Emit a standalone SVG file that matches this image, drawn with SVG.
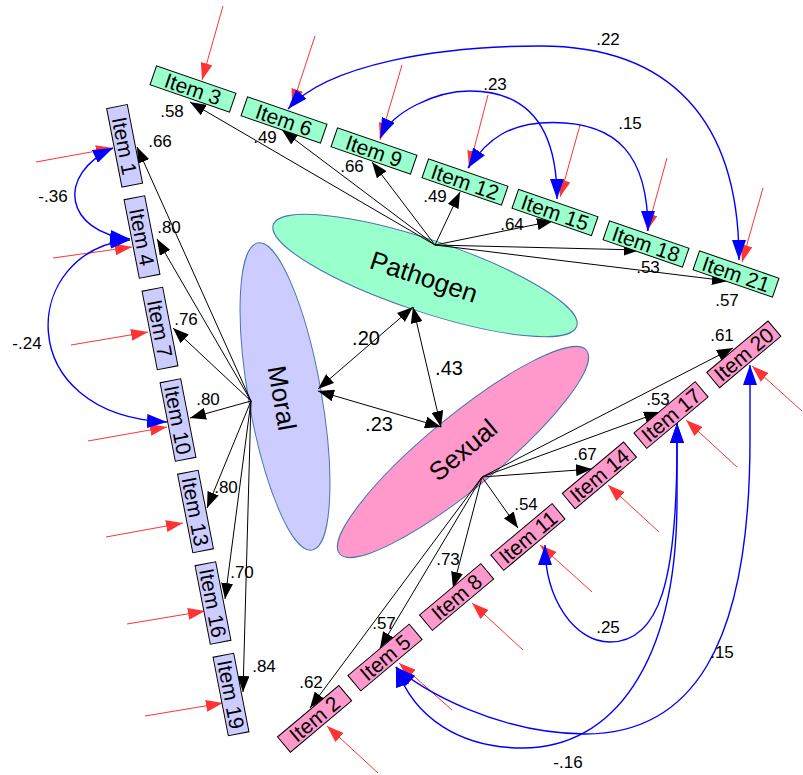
<svg xmlns="http://www.w3.org/2000/svg" width="803" height="775" viewBox="0 0 803 775">
<defs>
<style>
text{font-family:"Liberation Sans",Arial,sans-serif;fill:#000}
.it{font-size:21px;text-anchor:middle}
.lv{font-size:26px;text-anchor:middle}
.lb{font-size:17px;text-anchor:middle}
.fl{font-size:20px;text-anchor:middle}
.pb{fill:#99ffcc;stroke:#000;stroke-width:1}
.mb{fill:#ccccff;stroke:#000;stroke-width:1}
.sb{fill:#ff99cc;stroke:#000;stroke-width:1}
.ld{stroke:#000;stroke-width:1;fill:none;marker-end:url(#ah)}
.fc{stroke:#000;stroke-width:1;fill:none;marker-start:url(#ah);marker-end:url(#ah)}
.er{stroke:#ff3333;stroke-width:1;fill:none;marker-end:url(#rh)}
.cv{stroke:#0000ff;stroke-width:1.4;fill:none;marker-start:url(#bh);marker-end:url(#bh)}
</style>
<marker id="ah" viewBox="0 0 16 12" refX="16" refY="6" markerWidth="16" markerHeight="12" orient="auto-start-reverse" markerUnits="userSpaceOnUse"><path d="M0,0 L16,6 L0,12 z" fill="#000"/></marker>
<marker id="rh" viewBox="0 0 17 12" refX="17" refY="6" markerWidth="17" markerHeight="12" orient="auto" markerUnits="userSpaceOnUse"><path d="M0,0 L17,6 L0,12 z" fill="#ff3333"/></marker>
<marker id="bh" viewBox="0 0 20 14" refX="20" refY="7" markerWidth="20" markerHeight="14" orient="auto-start-reverse" markerUnits="userSpaceOnUse"><path d="M0,0 L20,7 L0,14 z" fill="#0000ff"/></marker>
</defs>
<rect width="803" height="775" fill="#fff"/>

<g id="pathogen"><ellipse cx="425" cy="275.5" rx="160" ry="36" transform="rotate(18.5 425 275.5)" fill="#99ffcc" stroke="#4a74b0" stroke-width="1"/><text class="lv" transform="translate(424,277) rotate(18.5)" y="9">Pathogen</text></g>
<g id="moral"><ellipse cx="285" cy="396.5" rx="36.4" ry="156" transform="rotate(-10 285 396.5)" fill="#ccccff" stroke="#4a74b0" stroke-width="1"/><text class="lv" transform="translate(282,398) rotate(80)" y="9">Moral</text></g>
<g id="sexual"><ellipse cx="463" cy="452" rx="160" ry="36" transform="rotate(-39.5 463 452)" fill="#ff99cc" stroke="#4a74b0" stroke-width="1"/><text class="lv" transform="translate(463,450) rotate(-40)" y="9">Sexual</text></g>

<g id="connectors">
<g id="loadings">
<path class="ld" d="M435,245 L190,102"/>
<path class="ld" d="M435,245 L282,130"/>
<path class="ld" d="M435,245 L372,162"/>
<path class="ld" d="M435,245 L460,192"/>
<path class="ld" d="M435,245 L553,221"/>
<path class="ld" d="M435,245 L640,250"/>
<path class="ld" d="M435,245 L728,281"/>
<path class="ld" d="M251,401 L137,147"/>
<path class="ld" d="M251,401 L157,239"/>
<path class="ld" d="M251,401 L173,328"/>
<path class="ld" d="M251,401 L190,418"/>
<path class="ld" d="M251,401 L207,508"/>
<path class="ld" d="M251,401 L225,599"/>
<path class="ld" d="M251,401 L243,692"/>
<path class="ld" d="M482,477 L310,708"/>
<path class="ld" d="M482,477 L380,648"/>
<path class="ld" d="M482,477 L453,588"/>
<path class="ld" d="M482,477 L518,528"/>
<path class="ld" d="M482,477 L592,469"/>
<path class="ld" d="M482,477 L660,412"/>
<path class="ld" d="M482,477 L733,348"/>
</g>
<g id="factor-correlations">
<path class="fc" d="M318,389 L413,307"/>
<path class="fc" d="M413,307 L441,427"/>
<path class="fc" d="M318,391 L441,427"/>
</g>
<g id="errors">
<path class="er" d="M223,6 L202,80"/>
<path class="er" d="M315,36 L292,106"/>
<path class="er" d="M402,65 L380,140"/>
<path class="er" d="M488,95 L469,168"/>
<path class="er" d="M580,125 L560,197"/>
<path class="er" d="M667,158 L647,231"/>
<path class="er" d="M763,188 L742,262"/>
<path class="er" d="M36,162 L113,148"/>
<path class="er" d="M53,258 L132,247"/>
<path class="er" d="M71,345 L148,332"/>
<path class="er" d="M88,441 L167,427"/>
<path class="er" d="M106,537 L183,523"/>
<path class="er" d="M127,624 L205,611"/>
<path class="er" d="M145,716 L223,703"/>
<path class="er" d="M378,773 L327,726"/>
<path class="er" d="M452,710 L399,663"/>
<path class="er" d="M523,650 L472,603"/>
<path class="er" d="M592,592 L540,545"/>
<path class="er" d="M659,532 L608,485"/>
<path class="er" d="M737,467 L686,420"/>
<path class="er" d="M802,411 L752,366"/>
</g>
<g id="covariances">
<path class="cv" d="M113,148 C55,175 65,232 130,239"/>
<path class="cv" d="M130,240 C20,250 10,415 167,422"/>
<path class="cv" d="M288,109 C328,64 440,46 540,46 C670,46 739,120 739,260"/>
<path class="cv" d="M380,138 C392,112 435,91 470,91 C530,91 557,130 557,199"/>
<path class="cv" d="M468,168 C488,138 510,122.5 553,122.5 C618,122.5 648,156 648,231"/>
<path class="cv" d="M545,545 C545,600 575,642 610,642 C660,642 677,580 677,443 L677,423"/>
<path class="cv" d="M396,667 C414,718 460,748 523,748 C612,748 677,665 677,500 L677,423"/>
<path class="cv" d="M396,667 C420,690 500,734 585,734 C690,734 750,650 750,440 L750,365"/>
</g>
<g id="labels">
<text class="lb" x="172" y="117">.58</text>
<text class="lb" x="265" y="143">.49</text>
<text class="lb" x="352" y="172">.66</text>
<text class="lb" x="435" y="202">.49</text>
<text class="lb" x="512" y="230">.64</text>
<text class="lb" x="648" y="273">.53</text>
<text class="lb" x="727" y="306">.57</text>
<text class="lb" x="160" y="147">.66</text>
<text class="lb" x="169" y="233">.80</text>
<text class="lb" x="186" y="325">.76</text>
<text class="lb" x="208" y="405">.80</text>
<text class="lb" x="226" y="493">.80</text>
<text class="lb" x="242" y="578">.70</text>
<text class="lb" x="264" y="672">.84</text>
<text class="lb" x="311" y="688">.62</text>
<text class="lb" x="384" y="629">.57</text>
<text class="lb" x="448" y="565">.73</text>
<text class="lb" x="526" y="510">.54</text>
<text class="lb" x="585" y="460">.67</text>
<text class="lb" x="658" y="405">.53</text>
<text class="lb" x="722" y="341">.61</text>
<text class="fl" x="366" y="345">.20</text>
<text class="fl" x="449" y="375">.43</text>
<text class="fl" x="379" y="431">.23</text>
<text class="lb" x="608" y="45">.22</text>
<text class="lb" x="495" y="90">.23</text>
<text class="lb" x="630" y="129">.15</text>
<text class="lb" x="53" y="202">-.36</text>
<text class="lb" x="27" y="349">-.24</text>
<text class="lb" x="608" y="633">.25</text>
<text class="lb" x="568" y="768">-.16</text>
<text class="lb" x="722" y="658">.15</text>
</g>
</g>

<g id="item3" transform="translate(193,89) rotate(19)"><rect class="pb" x="-42" y="-10" width="84" height="20"/><text class="it" y="7.5">Item 3</text></g>
<g id="item6" transform="translate(284,120) rotate(19)"><rect class="pb" x="-42" y="-10" width="84" height="20"/><text class="it" y="7.5">Item 6</text></g>
<g id="item9" transform="translate(374,151) rotate(19)"><rect class="pb" x="-42" y="-10" width="84" height="20"/><text class="it" y="7.5">Item 9</text></g>
<g id="item12" transform="translate(465,182) rotate(19)"><rect class="pb" x="-42" y="-10" width="84" height="20"/><text class="it" y="7.5">Item 12</text></g>
<g id="item15" transform="translate(555,212.5) rotate(19)"><rect class="pb" x="-42" y="-10" width="84" height="20"/><text class="it" y="7.5">Item 15</text></g>
<g id="item18" transform="translate(646,244) rotate(19)"><rect class="pb" x="-42" y="-10" width="84" height="20"/><text class="it" y="7.5">Item 18</text></g>
<g id="item21" transform="translate(736,274) rotate(19)"><rect class="pb" x="-42" y="-10" width="84" height="20"/><text class="it" y="7.5">Item 21</text></g>

<g id="item1" transform="translate(124.6,145.8) rotate(79)"><rect class="mb" x="-40" y="-10.5" width="80" height="21"/><text class="it" y="7.5">Item 1</text></g>
<g id="item4" transform="translate(142,237) rotate(79)"><rect class="mb" x="-40" y="-10.5" width="80" height="21"/><text class="it" y="7.5">Item 4</text></g>
<g id="item7" transform="translate(160,328.5) rotate(79)"><rect class="mb" x="-40" y="-10.5" width="80" height="21"/><text class="it" y="7.5">Item 7</text></g>
<g id="item10" transform="translate(178,420) rotate(79)"><rect class="mb" x="-40" y="-10.5" width="80" height="21"/><text class="it" y="7.5">Item 10</text></g>
<g id="item13" transform="translate(195.5,511.5) rotate(79)"><rect class="mb" x="-40" y="-10.5" width="80" height="21"/><text class="it" y="7.5">Item 13</text></g>
<g id="item16" transform="translate(213,603) rotate(79)"><rect class="mb" x="-40" y="-10.5" width="80" height="21"/><text class="it" y="7.5">Item 16</text></g>
<g id="item19" transform="translate(231,694.5) rotate(79)"><rect class="mb" x="-40" y="-10.5" width="80" height="21"/><text class="it" y="7.5">Item 19</text></g>

<g id="item2" transform="translate(314.6,718.8) rotate(-40)"><rect class="sb" x="-40" y="-10" width="80" height="20"/><text class="it" y="7.5">Item 2</text></g>
<g id="item5" transform="translate(385,657.5) rotate(-40)"><rect class="sb" x="-40" y="-10" width="80" height="20"/><text class="it" y="7.5">Item 5</text></g>
<g id="item8" transform="translate(456.6,597) rotate(-40)"><rect class="sb" x="-40" y="-10" width="80" height="20"/><text class="it" y="7.5">Item 8</text></g>
<g id="item11" transform="translate(527.9,537) rotate(-40)"><rect class="sb" x="-40" y="-10" width="80" height="20"/><text class="it" y="7.5">Item 11</text></g>
<g id="item14" transform="translate(599.4,475.3) rotate(-40)"><rect class="sb" x="-40" y="-10" width="80" height="20"/><text class="it" y="7.5">Item 14</text></g>
<g id="item17" transform="translate(671,415) rotate(-40)"><rect class="sb" x="-40" y="-10" width="80" height="20"/><text class="it" y="7.5">Item 17</text></g>
<g id="item20" transform="translate(743.8,354.3) rotate(-40)"><rect class="sb" x="-40" y="-10" width="80" height="20"/><text class="it" y="7.5">Item 20</text></g>
</svg>
